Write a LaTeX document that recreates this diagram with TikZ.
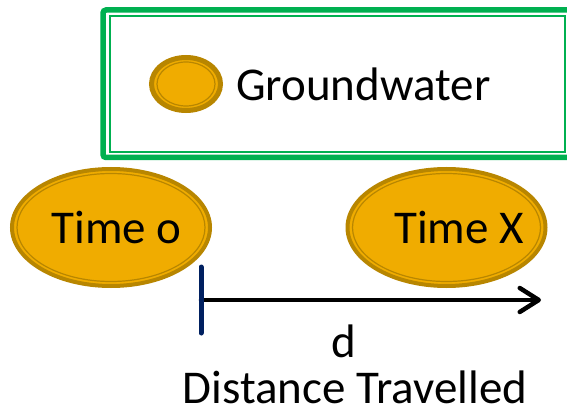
\documentclass[tikz,border=0pt]{standalone}
\usepackage{fontspec}
\setmainfont{Carlito}
\usetikzlibrary{shapes.geometric, arrows.meta, positioning}
\definecolor{gwgold}{RGB}{184,134,0}
\definecolor{gwfill}{RGB}{240,172,0}
\definecolor{keygreen}{RGB}{0,176,80}
\definecolor{ticknavy}{RGB}{0,32,96}
\tikzstyle{water} = [ellipse, draw=gwgold, fill=gwfill, line width=4pt, minimum width=198pt, minimum height=117pt, inner sep=0pt]
\tikzstyle{ring} = [draw=gwgold, line width=1.2pt]
\tikzstyle{lbl} = [font=\fontsize{47}{56}\selectfont, inner sep=0pt]
\tikzstyle{tick} = [draw=ticknavy, line width=5pt, line cap=round]
\tikzstyle{arrow} = [line width=4.5pt, line cap=round, -{Straight Barb[length=19pt, width=24pt, line cap=round, line join=round]}]

\begin{document}
\begin{tikzpicture}[x=1pt, y=-1pt]
	\useasboundingbox (0,0) rectangle (567,406);
	% legend box
	\draw [keygreen, line width=5.5pt, rounded corners=3pt] (103,10) rectangle (600,157.5);
	\draw [keygreen, line width=2pt] (109.5,16) rectangle (565,152);
	\node (key) [water, minimum width=69pt, minimum height=53pt, line width=5pt] at (186,84) {};
	\node (keytext) [lbl, right=13pt of key] {Groundwater};
	% groundwater at two times
	\node (t0) [water] at (111,227.5) {};
	\node (tx) [water] at (446.5,227.5) {};
	\draw [ring] (key.center) ellipse [x radius=29, y radius=22];
	\draw [ring] (t0.center) ellipse [x radius=94, y radius=54];
	\draw [ring] (tx.center) ellipse [x radius=94, y radius=54];
	\node (t0text) [lbl, anchor=base] at (116.5,243) {Time o};
	\node (txtext) [lbl, anchor=base] at (459,243) {Time X};
	% distance
	\coordinate (ticktop) at (201,267);
	\coordinate (tickbot) at (201,333);
	\coordinate (start) at (201,300);
	\coordinate (finish) at (541,300);
	\draw [arrow] (start) -- (finish);
	\draw [tick] (ticktop) -- (tickbot);
	\node (dlabel) [lbl, anchor=base] at (344,357) {d};
	\node (dist) [lbl, anchor=base] at (355,403) {Distance Travelled};
\end{tikzpicture}
\end{document}
